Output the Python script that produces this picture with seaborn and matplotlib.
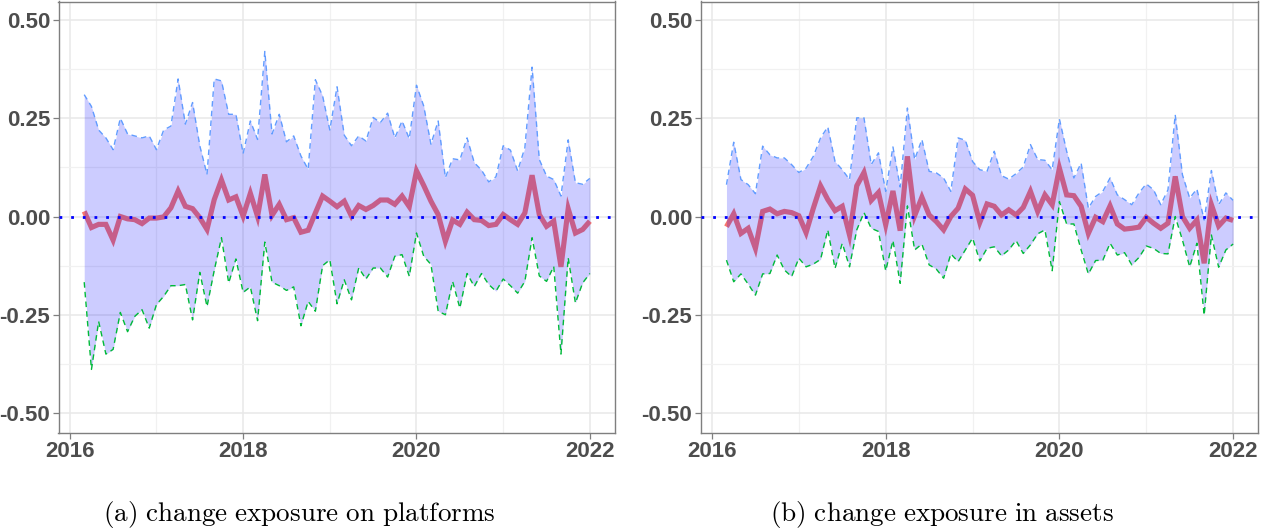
import numpy as np
import pandas as pd
import matplotlib
matplotlib.use("Agg")
import matplotlib.pyplot as plt
import seaborn as sns
from matplotlib.ticker import FixedLocator

# ---------------- data ----------------
start_year = 2016
start_month = 3  # March 2016 .. January 2022, monthly
n_months = 71

mean_a = [0.013, -0.028, -0.02, -0.02, -0.06, 0.0, -0.006, -0.008, -0.018, -0.004,
          -0.004, -0.001, 0.022, 0.065, 0.026, 0.02, -0.003, -0.033, 0.043, 0.093,
          0.042, 0.05, 0.001, 0.059, 0.0, 0.107, 0.003, 0.031, -0.008, -0.003,
          -0.04, -0.035, 0.009, 0.052, 0.039, 0.025, 0.039, 0.001, 0.028, 0.018,
          0.028, 0.042, 0.042, 0.031, 0.052, 0.025, 0.116, 0.079, 0.039, 0.005,
          -0.063, -0.009, -0.02, 0.011, -0.008, -0.01, -0.023, -0.02, 0.005, -0.008,
          -0.02, 0.009, 0.105, 0.005, -0.025, -0.012, -0.128, 0.02, -0.042, -0.033,
          -0.012]
upper_a = [0.31, 0.28, 0.22, 0.20, 0.17, 0.25, 0.21, 0.205, 0.20, 0.205,
           0.17, 0.22, 0.23, 0.35, 0.235, 0.29, 0.18, 0.107, 0.35, 0.345,
           0.26, 0.26, 0.16, 0.243, 0.196, 0.42, 0.21, 0.26, 0.19, 0.205,
           0.154, 0.12, 0.348, 0.307, 0.22, 0.33, 0.207, 0.18, 0.205, 0.192,
           0.252, 0.239, 0.263, 0.2, 0.243, 0.198, 0.334, 0.281, 0.184, 0.243,
           0.099, 0.147, 0.144, 0.2, 0.137, 0.118, 0.088, 0.101, 0.18, 0.169,
           0.116, 0.175, 0.38, 0.145, 0.103, 0.094, 0.052, 0.195, 0.086, 0.082,
           0.097]
lower_a = [-0.167, -0.389, -0.267, -0.35, -0.338, -0.244, -0.293, -0.254, -0.237, -0.284,
           -0.224, -0.203, -0.176, -0.176, -0.173, -0.263, -0.142, -0.229, -0.137, -0.054,
           -0.169, -0.108, -0.193, -0.179, -0.265, -0.065, -0.167, -0.176, -0.188, -0.179,
           -0.278, -0.216, -0.241, -0.125, -0.11, -0.222, -0.161, -0.212, -0.131, -0.159,
           -0.131, -0.131, -0.154, -0.101, -0.097, -0.152, -0.042, -0.101, -0.122, -0.241,
           -0.25, -0.165, -0.233, -0.145, -0.178, -0.145, -0.173, -0.19, -0.159, -0.176,
           -0.195, -0.165, -0.054, -0.151, -0.165, -0.127, -0.35, -0.105, -0.22, -0.169,
           -0.145]

mean_b = [-0.026, 0.007, -0.043, -0.03, -0.081, 0.013, 0.019, 0.007, 0.013, 0.01,
          0.002, -0.041, 0.021, 0.078, 0.043, 0.015, 0.026, -0.047, 0.078, 0.112,
          0.041, 0.061, -0.021, 0.065, -0.036, 0.153, 0.002, 0.049, 0.004, -0.013,
          -0.034, 0.0, 0.021, 0.07, 0.054, -0.015, 0.032, 0.026, 0.004, 0.017,
          0.004, 0.023, 0.064, 0.013, 0.055, 0.03, 0.123, 0.055, 0.053, 0.026,
          -0.043, -0.002, -0.013, 0.027, -0.019, -0.032, -0.03, -0.027, -0.002, -0.017,
          -0.03, -0.017, 0.102, 0.0, -0.03, -0.009, -0.119, 0.03, -0.024, -0.004,
          -0.01]
upper_b = [0.081, 0.189, 0.094, 0.081, 0.058, 0.179, 0.157, 0.149, 0.149, 0.132,
           0.112, 0.123, 0.153, 0.2, 0.228, 0.14, 0.119, 0.094, 0.251, 0.251,
           0.132, 0.162, 0.064, 0.177, 0.075, 0.276, 0.145, 0.196, 0.115, 0.111,
           0.098, 0.064, 0.2, 0.194, 0.14, 0.119, 0.115, 0.166, 0.104, 0.095,
           0.109, 0.126, 0.183, 0.145, 0.143, 0.119, 0.248, 0.166, 0.098, 0.136,
           0.021, 0.051, 0.064, 0.098, 0.055, 0.043, 0.03, 0.06, 0.083, 0.068,
           0.03, 0.068, 0.259, 0.106, 0.047, 0.07, -0.009, 0.117, 0.03, 0.06,
           0.041]
lower_b = [-0.111, -0.166, -0.146, -0.172, -0.2, -0.146, -0.145, -0.098, -0.136, -0.153,
           -0.106, -0.128, -0.121, -0.109, -0.034, -0.132, -0.068, -0.128, -0.034, 0.01,
           -0.03, -0.038, -0.138, -0.061, -0.17, 0.027, -0.085, -0.07, -0.123, -0.134,
           -0.157, -0.095, -0.115, -0.085, -0.055, -0.113, -0.081, -0.077, -0.1, -0.085,
           -0.061, -0.094, -0.072, -0.044, -0.034, -0.138, 0.038, -0.019, -0.019, -0.085,
           -0.146, -0.112, -0.111, -0.068, -0.098, -0.092, -0.123, -0.104, -0.075, -0.081,
           -0.094, -0.095, 0.0, -0.06, -0.128, -0.068, -0.251, -0.047, -0.129, -0.085,
           -0.07]

captions = ["(a) change exposure on platforms", "(b) change exposure in assets"]
x_ticks = [2016, 2018, 2020, 2022]
y_ticks = [-0.50, -0.25, 0.00, 0.25, 0.50]

# decimal year for each month
t = start_year + (start_month - 1 + np.arange(n_months)) / 12.0

# ---------------- style ----------------
sns.set_theme(style="white")
plt.rcParams["font.family"] = ["Liberation Sans", "DejaVu Sans"]
plt.rcParams["mathtext.fontset"] = "cm"

W, H = 1276, 531
fig = plt.figure(figsize=(W / 100, H / 100), dpi=100)

axes_px = [(58.5, 615.0), (700.7, 1258.3)]
top_px, bot_px = 1.5, 432.7
caption_x = [299, 942]
caption_y = 514

series = [(mean_a, upper_a, lower_a), (mean_b, upper_b, lower_b)]

for k, (m, u, l) in enumerate(series):
    x0, x1 = axes_px[k]
    ax = fig.add_axes([x0 / W, (H - bot_px) / H, (x1 - x0) / W, (bot_px - top_px) / H])
    df = pd.DataFrame({"t": t, "mean": m, "upper": u, "lower": l})

    # grid
    ax.set_axisbelow(True)
    ax.xaxis.set_major_locator(FixedLocator(x_ticks))
    ax.xaxis.set_minor_locator(FixedLocator([2017, 2019, 2021]))
    ax.yaxis.set_major_locator(FixedLocator(y_ticks))
    ax.yaxis.set_minor_locator(FixedLocator([-0.375, -0.125, 0.125, 0.375]))
    ax.grid(which="major", color="#E8E8E8", linewidth=1.1, zorder=0)
    ax.grid(which="minor", color="#F1F1F1", linewidth=0.9, zorder=0)

    # mean line (drawn under the ribbon)
    sns.lineplot(data=df, x="t", y="mean", ax=ax, color="#F8766D", linewidth=3.7,
                 zorder=2, solid_capstyle="butt", solid_joinstyle="miter")
    ax.fill_between(df["t"], df["lower"], df["upper"], color="#0000FF", alpha=0.2,
                    linewidth=0, zorder=3)
    sns.lineplot(data=df, x="t", y="upper", ax=ax, color="#619CFF", linewidth=1.0,
                 linestyle=(0, (4, 3)), zorder=4)
    sns.lineplot(data=df, x="t", y="lower", ax=ax, color="#00BA38", linewidth=1.0,
                 linestyle=(0, (4, 3)), zorder=4)
    ax.axhline(0, color="#0000FF", linewidth=2.0, linestyle=(0, (1, 3.2)), zorder=5)

    ax.set_xlim(2015.87, 2022.29)
    ax.set_ylim(-0.55, 0.547)
    ax.set_xlabel("")
    ax.set_ylabel("")
    ax.set_xticklabels([str(v) for v in x_ticks])
    ax.set_yticklabels([f"{v:.2f}" for v in y_ticks])
    ax.tick_params(axis="both", which="major", length=4, width=0.9, color="#7F7F7F",
                   labelsize=16, labelcolor="#4D4D4D", pad=2, bottom=True, left=True)
    ax.tick_params(axis="both", which="minor", length=0)
    for lab in ax.get_xticklabels() + ax.get_yticklabels():
        lab.set_fontweight("bold")
    for s in ax.spines.values():
        s.set_color("#7F7F7F")
        s.set_linewidth(1.0)

    fig.text(caption_x[k] / W, 1 - caption_y / H,
             r"$\mathrm{" + captions[k].replace(" ", r"\ ") + "}$",
             ha="center", va="center", fontsize=19.5, color="black")

fig.savefig("out.png", dpi=100, facecolor="white")
